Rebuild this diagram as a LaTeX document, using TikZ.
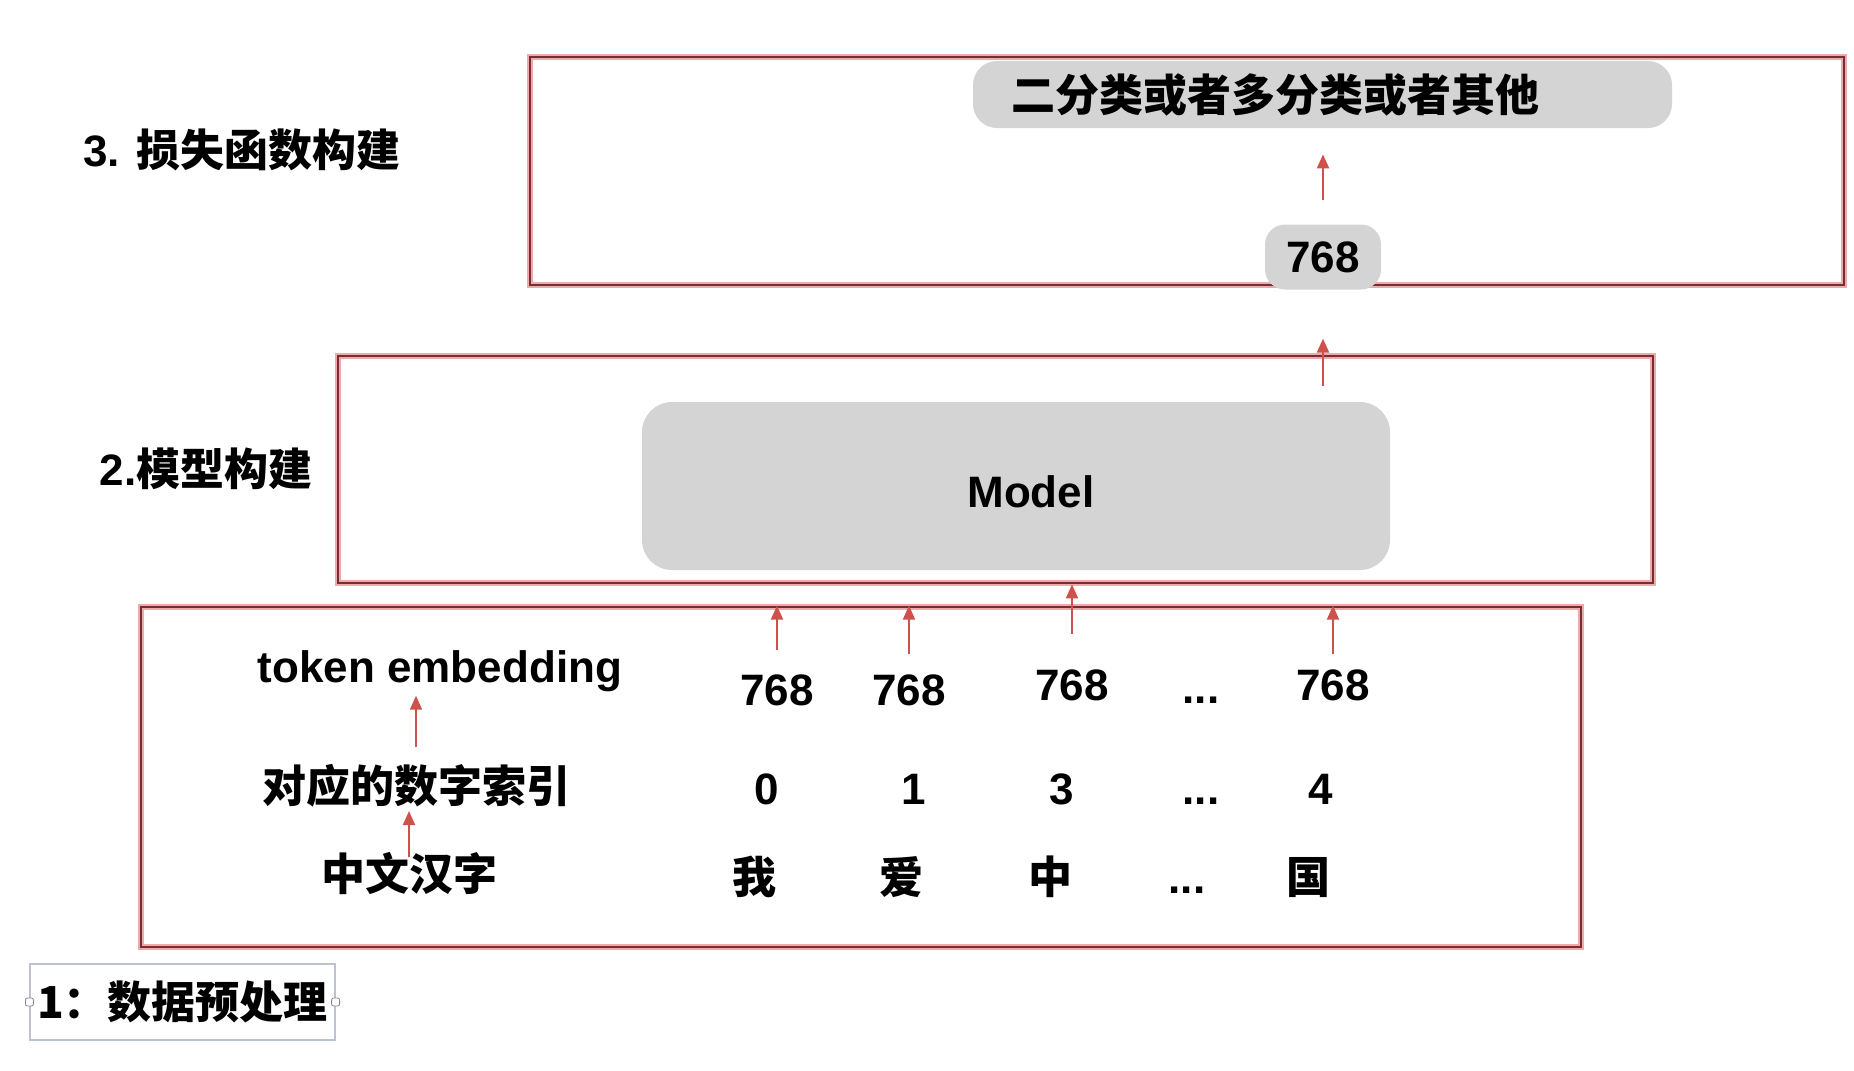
\documentclass[tikz,border=0pt]{standalone}
\usepackage{fontspec}
\setmainfont{Liberation Sans}
\newfontfamily\cjk{Noto Sans CJK SC}
\usetikzlibrary{arrows.meta}
\definecolor{framered}{RGB}{118,46,52}
\definecolor{framehalo}{RGB}{236,170,170}
\definecolor{arrowred}{RGB}{205,82,76}
\definecolor{pillgray}{RGB}{212,212,212}
\definecolor{tagline}{RGB}{188,194,210}

\begin{document}
\begin{tikzpicture}[x=0.5pt,y=-0.5pt,
  frame/.style={draw=framered, line width=1.4pt, inner sep=0pt, preaction={draw=framehalo, line width=3pt}},
  pill/.style={fill=pillgray, rounded corners=12pt},
  txt/.style={font=\fontsize{22}{26}\selectfont\bfseries, inner sep=2pt},
  cjktxt/.style={txt, font=\cjk\fontsize{22}{26}\selectfont\bfseries},
  arr/.style={draw=arrowred, line width=1pt, -{Triangle[length=7pt,width=6pt]}}]
\useasboundingbox (0,0) rectangle (1854,1071);
% the three stage frames
\node[frame, minimum width=657pt, minimum height=114pt] (lossframe) at (1187,171) {};
\node[frame, minimum width=657.5pt, minimum height=113.5pt] (modframe) at (995.5,469.5) {};
\node[frame, minimum width=720pt, minimum height=170pt] (inframe) at (861,777) {};
% stage labels
\node[txt] (losslabel) at (242,150) {3. {\cjk 损失函数构建}};
\node[txt] (modlabel) at (206,469) {2.{\cjk 模型构建}};
\node[cjktxt, draw=tagline, line width=0.6pt, minimum width=152.5pt, minimum height=38pt] (datalabel) at (182.5,1002) {1：数据预处理};
\node[draw=tagline!70!black, fill=white, rounded corners=1pt, inner sep=0pt, minimum size=4pt] (handlew) at (datalabel.west) {};
\node[draw=tagline!70!black, fill=white, rounded corners=1pt, inner sep=0pt, minimum size=4pt] (handlee) at (datalabel.east) {};
% loss part
\node[pill, cjktxt, text width=311.5pt, align=left, inner xsep=19pt, inner ysep=0pt, minimum height=33.5pt] (task) at (1322.5,94.5) {二分类或者多分类或者其他};
\node[pill, txt, rounded corners=10pt, inner sep=0pt, minimum width=58pt, minimum height=32.5pt] (out768) at (1323,257) {768};
% model part
\node[pill, rounded corners=15pt, inner sep=0pt, minimum width=374pt, minimum height=84pt] (model) at (1016,486) {};
\node[txt] (modeltext) at (1031,492) {Model};
% data rows
\node[txt, anchor=base] (tok) at (440,682) {token embedding};
\node[txt, anchor=base] (e1) at (777,705) {768};
\node[txt, anchor=base] (e2) at (909,705) {768};
\node[txt, anchor=base] (e3) at (1072,700) {768};
\node[txt, anchor=base] (edots) at (1201,703) {...};
\node[txt, anchor=base] (e5) at (1333,700) {768};
\node[cjktxt, anchor=base] (idx) at (416,802) {对应的数字索引};
\node[txt, anchor=base] (i1) at (767,804) {0};
\node[txt, anchor=base] (i2) at (914,804) {1};
\node[txt, anchor=base] (i3) at (1062,804) {3};
\node[txt, anchor=base] (idots) at (1201,804) {...};
\node[txt, anchor=base] (i5) at (1321,804) {4};
\node[cjktxt, anchor=base] (hanzi) at (409,890) {中文汉字};
\node[cjktxt, anchor=base] (c1) at (754,893) {我};
\node[cjktxt, anchor=base] (c2) at (901,893) {爱};
\node[cjktxt, anchor=base] (c3) at (1050,893) {中};
\node[txt, anchor=base] (cdots) at (1187,893) {...};
\node[cjktxt, anchor=base] (c5) at (1308,893) {国};
% arrows
\draw[arr] ([yshift=-5pt]hanzi.north) -- (hanzi.north |- idx.south);
\draw[arr] ([yshift=6pt]idx.north) -- (idx.north |- tok.south);
\draw[arr] ([yshift=10pt]e1.north) -- (e1.north |- inframe.north);
\draw[arr] ([yshift=8pt]e2.north) -- (e2.north |- inframe.north);
\draw[arr] ([yshift=15.5pt]e3.north) -- (e3.north |- modframe.south);
\draw[arr] ([yshift=5.5pt]e5.north) -- (e5.north |- inframe.north);
\draw[arr] ([yshift=-15.5pt]modframe.north -| out768.south) -- ([yshift=8pt]modframe.north -| out768.south);
\draw[arr] ([yshift=12pt]out768.north) -- ([yshift=-13pt]out768.north |- task.south);
\end{tikzpicture}
\end{document}
